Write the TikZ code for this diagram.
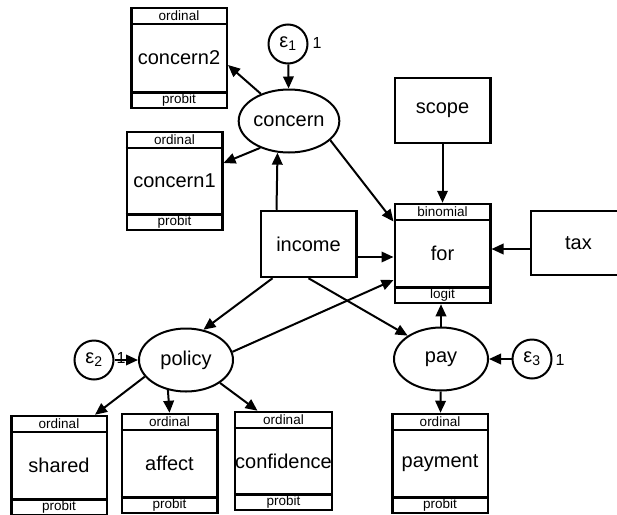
\documentclass[tikz,border=0pt]{standalone}
\usepackage{fontspec}
\setmainfont{Liberation Sans}
\usetikzlibrary{arrows.meta,shapes.geometric}
\begin{document}
\begin{tikzpicture}[x=1pt, y=-1pt,
	every node/.style={inner sep=0pt, font=\fontsize{20}{20}\selectfont},
	box/.style={draw, line width=2.5pt, rectangle, minimum width=95.5pt, minimum height=65pt},
	obs/.style={draw, line width=2.5pt, rectangle, minimum width=95.5pt, minimum height=98pt},
	lat/.style={draw, line width=2pt, ellipse, minimum width=94pt, minimum height=63pt},
	err/.style={draw, line width=2pt, circle, minimum size=39pt},
	band/.style={font=\fontsize{13.5}{13.5}\selectfont},
	var/.style={font=\fontsize{16}{16}\selectfont},
	arr/.style={line width=2pt, -{Triangle[length=12pt,width=10.5pt]}}]
	\useasboundingbox (0,0) rectangle (617,514);
	\node[err] (e1) at (288,44) {ε\textsubscript{1}};
	\node[var] (v1) at (317,43) {1};
	\node[lat] (concern) at (289,121) {concern};
	\node[obs, minimum height=100pt] (concerntwo) at (179,58) {concern2};
	\node[obs] (concernone) at (174.5,181) {concern1};
	\node[box] (scope) at (442.5,110.5) {scope};
	\node[box, minimum height=66pt] (income) at (308.5,244) {income};
	\node[obs, minimum height=99pt] (for) at (442.5,253.5) {for};
	\node[box, minimum height=64pt] (tax) at (578.5,243) {tax};
	\node[err] (e2) at (94,360) {ε\textsubscript{2}};
	\node[var] (v2) at (121,358) {1};
	\node[lat] (policy) at (186,360) {policy};
	\node[lat] (pay) at (441,359) {pay};
	\node[err] (e3) at (532,359) {ε\textsubscript{3}};
	\node[var] (v3) at (560,360) {1};
	\node[obs, minimum height=99pt] (shared) at (59,465.5) {shared};
	\node[obs, minimum height=99pt] (affect) at (169.5,463.5) {affect};
	\node[obs] (confidence) at (283.5,461) {confidence};
	\node[obs, minimum height=99pt] (payment) at (440,463.5) {payment};
	\foreach \n/\up/\down in {concerntwo/ordinal/probit, concernone/ordinal/probit, for/binomial/logit, shared/ordinal/probit, affect/ordinal/probit, confidence/ordinal/probit, payment/ordinal/probit}{
		\draw[line width=2.5pt] ([yshift=-17pt]\n.north west) -- ([yshift=-17pt]\n.north east);
		\draw[line width=2.5pt] ([yshift=17pt]\n.south west) -- ([yshift=17pt]\n.south east);
		\node[band] (\n-up) at ([yshift=-8.5pt]\n.north) {\up};
		\node[band] (\n-down) at ([yshift=9pt]\n.south) {\down};
	}
	\draw[arr] (e1) -- (concern);
	\draw[arr] (concern.136) -- ([yshift=-7pt]concerntwo.east);
	\draw[arr] (concern.223) -- ([yshift=18pt]concernone.east);
	\draw[arr] ([xshift=-32pt]income.north) -- (concern.250);
	\draw[arr] (concern.335) -- ([yshift=32pt]for.west);
	\draw[arr] (scope) -- (for);
	\draw[arr] ([yshift=-6pt]tax.west) -- ([yshift=4.5pt]for.east);
	\draw[arr] ([yshift=-13pt]income.east) -- ([yshift=-3.5pt]for.west);
	\draw[arr] (policy.10) -- ([yshift=-26.5pt]for.west);
	\draw[arr] ([xshift=-36pt]income.south) -- (policy.60);
	\draw[arr] (income.south) -- (pay.145);
	\draw[arr] (pay.north) -- (pay.north |- for.south);
	\draw[arr] (e3) -- (pay);
	\draw[arr] (pay) -- (payment);
	\draw[arr] (e2) -- (policy);
	\draw[arr] (policy.202) -- ([xshift=36pt]shared.north);
	\draw[arr] (policy.239) -- (affect.north);
	\draw[arr] (policy.326) -- ([xshift=-26pt]confidence.north);
\end{tikzpicture}
\end{document}
